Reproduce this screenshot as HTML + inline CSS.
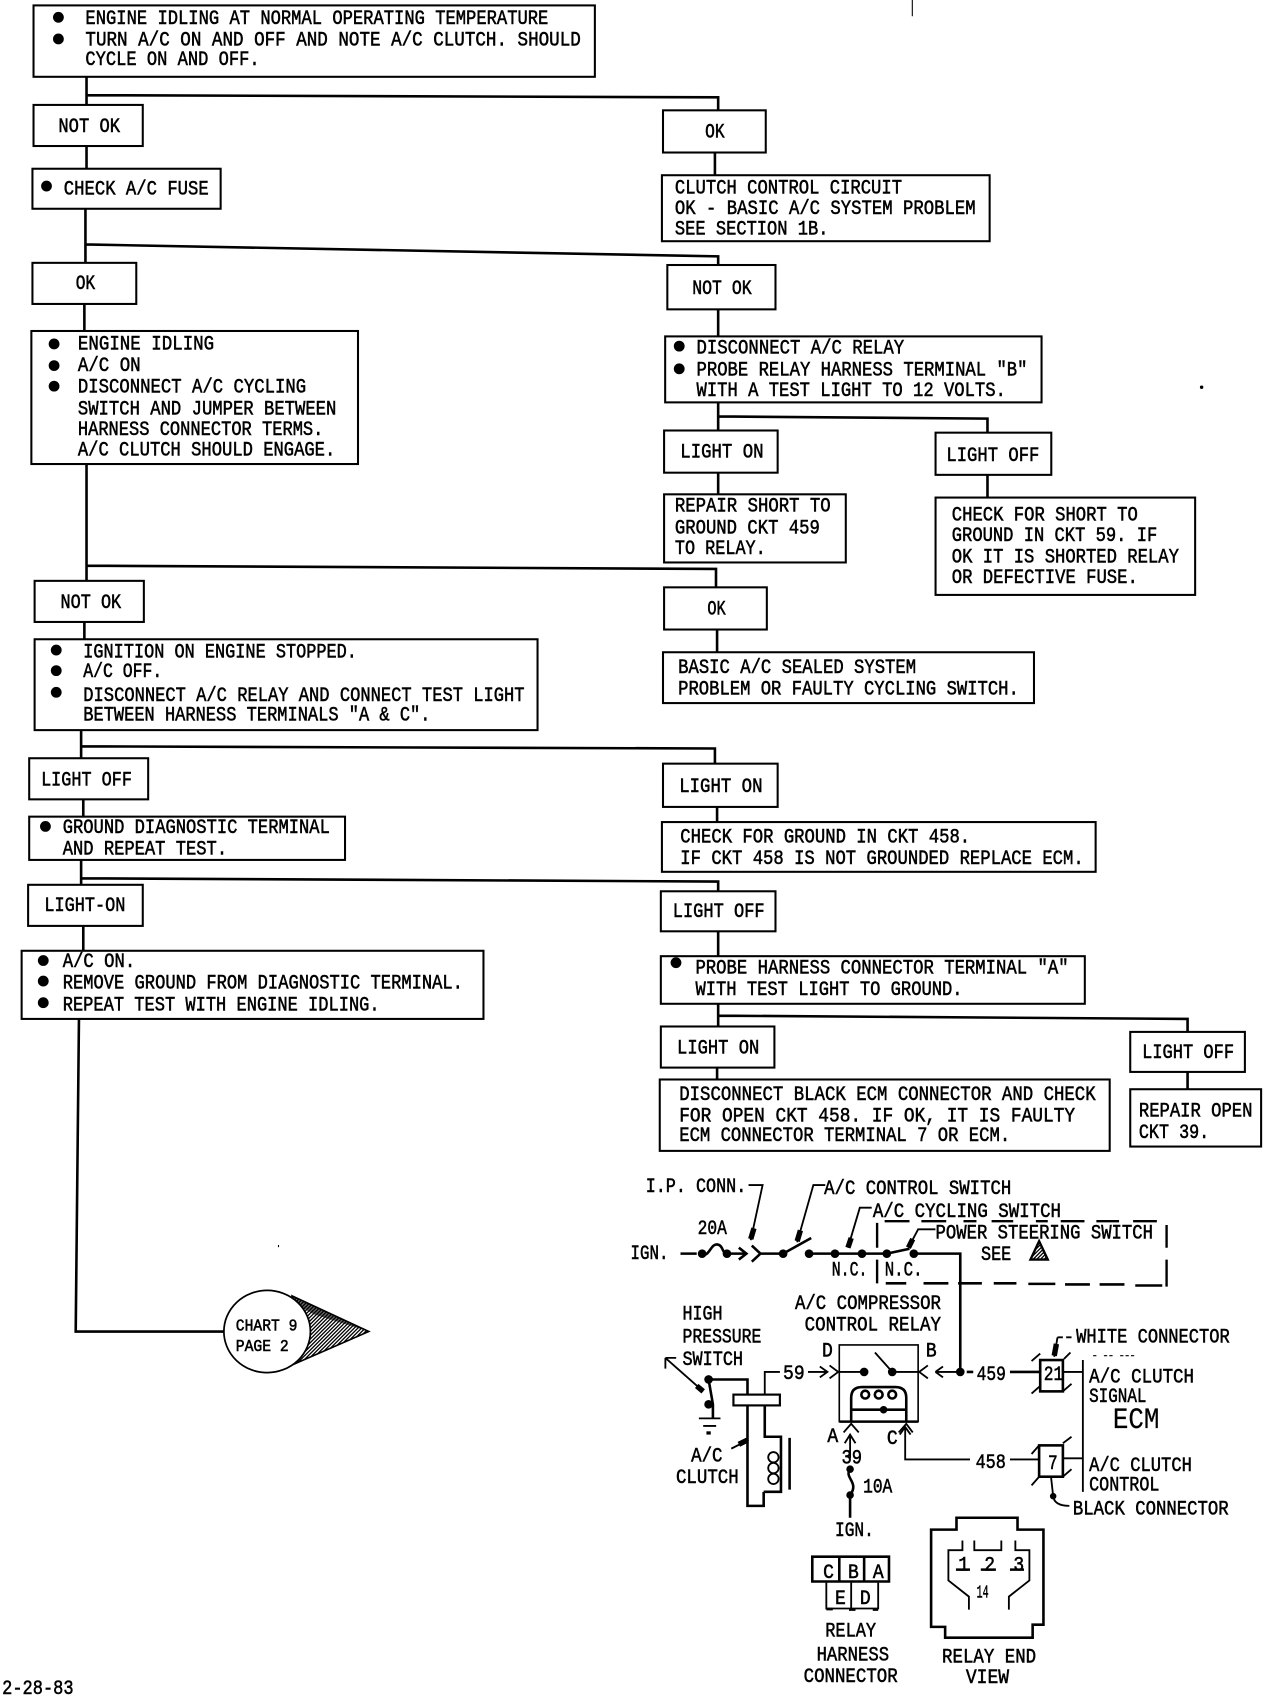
<!DOCTYPE html>
<html><head><meta charset="utf-8"><style>
html,body{margin:0;padding:0;background:#fff}
svg{display:block}
text{font-family:"Liberation Mono",monospace;font-size:19px;fill:#000;stroke:#000;stroke-width:.5}
.b{fill:#fff;stroke:#000;stroke-width:1.9}
.w{fill:none;stroke:#000;stroke-width:2.4}
.t{fill:none;stroke:#000;stroke-width:1.7}
.k{fill:none;stroke:#000;stroke-width:5}
</style></head><body>
<svg width="1280" height="1696" viewBox="0 0 1185 1570" preserveAspectRatio="none" xmlns="http://www.w3.org/2000/svg">
<defs><pattern id="h" width="2.4" height="2.4" patternUnits="userSpaceOnUse" patternTransform="rotate(45)"><rect width="2.4" height="2.4" fill="#fff"/><rect width="1.2" height="2.4" fill="#000"/></pattern></defs>
<rect width="1185" height="1570" fill="#fff"/>
<g transform="scale(1.0013)">
<path class="w" d="M80 71V97M80 88L664 90V102M80 135V156M79 193V243M79 226L664 237V245M661 141V162M78 281V306M80 429V537M80 523L662 526V543M664 286V311M664 372V398M664 385L913 387V400M664 437V457M913 439V460M78 575V591M663 582V603M75 675V701M75 690L661 692V706M77 739V755M663 746V760M75 795V818M75 812L664 815V824M77 856V883M664 861V884M664 928V949M664 939L1098 942V954M663 987V998M1098 991V1007M73 942L70 1231H207"/>
<rect class="b" x="31" y="5" width="519" height="66"/>
<rect class="b" x="31" y="97" width="101" height="38"/>
<rect class="b" x="30" y="156" width="174" height="37"/>
<rect class="b" x="613" y="102" width="95" height="39"/>
<rect class="b" x="612" y="162" width="303" height="61"/>
<rect class="b" x="30" y="243" width="96" height="38"/>
<rect class="b" x="29" y="306" width="302" height="123"/>
<rect class="b" x="617" y="245" width="100" height="41"/>
<rect class="b" x="615" y="311" width="348" height="61"/>
<rect class="b" x="614" y="398" width="105" height="39"/>
<rect class="b" x="614" y="457" width="168" height="63"/>
<rect class="b" x="865" y="400" width="107" height="39"/>
<rect class="b" x="865" y="460" width="240" height="90"/>
<rect class="b" x="32" y="537" width="101" height="38"/>
<rect class="b" x="32" y="591" width="465" height="84"/>
<rect class="b" x="614" y="543" width="95" height="39"/>
<rect class="b" x="613" y="603" width="343" height="47"/>
<rect class="b" x="27" y="701" width="110" height="38"/>
<rect class="b" x="27" y="755" width="292" height="40"/>
<rect class="b" x="613" y="706" width="106" height="40"/>
<rect class="b" x="612" y="760" width="401" height="46"/>
<rect class="b" x="26" y="818" width="106" height="38"/>
<rect class="b" x="20" y="879" width="427" height="63"/>
<rect class="b" x="611" y="824" width="106" height="37"/>
<rect class="b" x="611" y="884" width="392" height="44"/>
<rect class="b" x="611" y="949" width="105" height="38"/>
<rect class="b" x="610" y="998" width="416" height="66"/>
<rect class="b" x="1045" y="954" width="106" height="37"/>
<rect class="b" x="1045" y="1007" width="121" height="53"/>
<g fill="#000">
<circle cx="54" cy="16" r="5"/><circle cx="54" cy="36" r="5"/><circle cx="43" cy="172" r="5"/>
<circle cx="50" cy="318" r="5"/><circle cx="50" cy="338" r="5"/><circle cx="50" cy="357" r="5"/>
<circle cx="628" cy="320" r="5"/><circle cx="628" cy="341" r="5"/>
<circle cx="52" cy="601" r="5"/><circle cx="52" cy="620" r="5"/><circle cx="52" cy="640" r="5"/>
<circle cx="42" cy="764" r="5"/><circle cx="40" cy="888" r="5"/><circle cx="40" cy="907" r="5"/><circle cx="40" cy="927" r="5"/>
<circle cx="625" cy="890" r="5"/>
<rect x="843" y="0" width="1" height="15"/><circle cx="1111" cy="358" r="1.6"/><rect x="257" y="1151" width="1" height="2"/>
</g>
<text x="79" y="22" textLength="428" lengthAdjust="spacingAndGlyphs">ENGINE IDLING AT NORMAL OPERATING TEMPERATURE</text>
<text x="79" y="42" textLength="458" lengthAdjust="spacingAndGlyphs">TURN A/C ON AND OFF AND NOTE A/C CLUTCH.  SHOULD</text>
<text x="79" y="60" textLength="161" lengthAdjust="spacingAndGlyphs">CYCLE ON AND OFF.</text>
<text x="54" y="122" textLength="57" lengthAdjust="spacingAndGlyphs">NOT OK</text>
<text x="59" y="180" textLength="134" lengthAdjust="spacingAndGlyphs">CHECK A/C FUSE</text>
<text x="652" y="127" textLength="18" lengthAdjust="spacingAndGlyphs">OK</text>
<text x="624" y="179" textLength="210" lengthAdjust="spacingAndGlyphs">CLUTCH CONTROL CIRCUIT</text>
<text x="624" y="198" textLength="278" lengthAdjust="spacingAndGlyphs">OK - BASIC A/C SYSTEM PROBLEM</text>
<text x="624" y="217" textLength="142" lengthAdjust="spacingAndGlyphs">SEE SECTION 1B.</text>
<text x="70" y="267" textLength="18" lengthAdjust="spacingAndGlyphs">OK</text>
<text x="72" y="323" textLength="126" lengthAdjust="spacingAndGlyphs">ENGINE IDLING</text>
<text x="72" y="343" textLength="58" lengthAdjust="spacingAndGlyphs">A/C ON</text>
<text x="72" y="363" textLength="211" lengthAdjust="spacingAndGlyphs">DISCONNECT A/C CYCLING</text>
<text x="72" y="383" textLength="239" lengthAdjust="spacingAndGlyphs">SWITCH AND JUMPER BETWEEN</text>
<text x="72" y="402" textLength="227" lengthAdjust="spacingAndGlyphs">HARNESS CONNECTOR TERMS.</text>
<text x="72" y="421" textLength="238" lengthAdjust="spacingAndGlyphs">A/C CLUTCH SHOULD ENGAGE.</text>
<text x="640" y="272" textLength="55" lengthAdjust="spacingAndGlyphs">NOT OK</text>
<text x="644" y="327" textLength="192" lengthAdjust="spacingAndGlyphs">DISCONNECT A/C RELAY</text>
<text x="644" y="347" textLength="306" lengthAdjust="spacingAndGlyphs">PROBE RELAY HARNESS TERMINAL "B"</text>
<text x="644" y="366" textLength="286" lengthAdjust="spacingAndGlyphs">WITH A TEST LIGHT TO 12 VOLTS.</text>
<text x="629" y="423" textLength="77" lengthAdjust="spacingAndGlyphs">LIGHT ON</text>
<text x="624" y="473" textLength="144" lengthAdjust="spacingAndGlyphs">REPAIR SHORT TO</text>
<text x="624" y="493" textLength="134" lengthAdjust="spacingAndGlyphs">GROUND CKT 459</text>
<text x="624" y="512" textLength="84" lengthAdjust="spacingAndGlyphs">TO RELAY.</text>
<text x="875" y="426" textLength="86" lengthAdjust="spacingAndGlyphs">LIGHT OFF</text>
<text x="880" y="481" textLength="172" lengthAdjust="spacingAndGlyphs">CHECK FOR SHORT TO</text>
<text x="880" y="500" textLength="190" lengthAdjust="spacingAndGlyphs">GROUND IN CKT 59. IF</text>
<text x="880" y="520" textLength="210" lengthAdjust="spacingAndGlyphs">OK IT IS SHORTED RELAY</text>
<text x="880" y="539" textLength="172" lengthAdjust="spacingAndGlyphs">OR DEFECTIVE FUSE.</text>
<text x="56" y="562" textLength="56" lengthAdjust="spacingAndGlyphs">NOT OK</text>
<text x="77" y="608" textLength="253" lengthAdjust="spacingAndGlyphs">IGNITION ON ENGINE STOPPED.</text>
<text x="77" y="626" textLength="73" lengthAdjust="spacingAndGlyphs">A/C OFF.</text>
<text x="77" y="648" textLength="408" lengthAdjust="spacingAndGlyphs">DISCONNECT A/C RELAY AND CONNECT TEST LIGHT</text>
<text x="77" y="666" textLength="321" lengthAdjust="spacingAndGlyphs">BETWEEN HARNESS TERMINALS "A &amp; C".</text>
<text x="654" y="568" textLength="17" lengthAdjust="spacingAndGlyphs">OK</text>
<text x="627" y="622" textLength="220" lengthAdjust="spacingAndGlyphs">BASIC A/C SEALED SYSTEM</text>
<text x="627" y="642" textLength="315" lengthAdjust="spacingAndGlyphs">PROBLEM OR FAULTY CYCLING SWITCH.</text>
<text x="38" y="726" textLength="84" lengthAdjust="spacingAndGlyphs">LIGHT OFF</text>
<text x="58" y="770" textLength="247" lengthAdjust="spacingAndGlyphs">GROUND DIAGNOSTIC TERMINAL</text>
<text x="58" y="790" textLength="152" lengthAdjust="spacingAndGlyphs">AND REPEAT TEST.</text>
<text x="628" y="732" textLength="77" lengthAdjust="spacingAndGlyphs">LIGHT ON</text>
<text x="629" y="779" textLength="268" lengthAdjust="spacingAndGlyphs">CHECK FOR GROUND IN CKT 458.</text>
<text x="629" y="799" textLength="373" lengthAdjust="spacingAndGlyphs">IF CKT 458 IS NOT GROUNDED REPLACE ECM.</text>
<text x="41" y="842" textLength="75" lengthAdjust="spacingAndGlyphs">LIGHT-ON</text>
<text x="58" y="894" textLength="67" lengthAdjust="spacingAndGlyphs">A/C ON.</text>
<text x="58" y="914" textLength="370" lengthAdjust="spacingAndGlyphs">REMOVE GROUND FROM DIAGNOSTIC TERMINAL.</text>
<text x="58" y="934" textLength="293" lengthAdjust="spacingAndGlyphs">REPEAT TEST WITH ENGINE IDLING.</text>
<text x="622" y="848" textLength="85" lengthAdjust="spacingAndGlyphs">LIGHT OFF</text>
<text x="643" y="900" textLength="345" lengthAdjust="spacingAndGlyphs">PROBE HARNESS CONNECTOR TERMINAL "A"</text>
<text x="643" y="920" textLength="247" lengthAdjust="spacingAndGlyphs">WITH TEST LIGHT TO GROUND.</text>
<text x="626" y="974" textLength="76" lengthAdjust="spacingAndGlyphs">LIGHT ON</text>
<text x="628" y="1017" textLength="385" lengthAdjust="spacingAndGlyphs">DISCONNECT BLACK ECM CONNECTOR AND CHECK</text>
<text x="628" y="1037" textLength="366" lengthAdjust="spacingAndGlyphs">FOR OPEN CKT 458.  IF OK, IT IS FAULTY</text>
<text x="628" y="1055" textLength="306" lengthAdjust="spacingAndGlyphs">ECM CONNECTOR TERMINAL 7 OR ECM.</text>
<text x="1056" y="978" textLength="85" lengthAdjust="spacingAndGlyphs">LIGHT OFF</text>
<text x="1053" y="1032" textLength="105" lengthAdjust="spacingAndGlyphs">REPAIR OPEN</text>
<text x="1053" y="1052" textLength="65" lengthAdjust="spacingAndGlyphs">CKT 39.</text>
<path d="M270 1198L341 1231L270 1262Z" fill="url(#h)" stroke="#000" stroke-width="1.5"/>
<path d="M270 1198L341 1231L290 1215L272 1205Z" fill="#000" opacity=".6"/>
<ellipse cx="247" cy="1231" rx="40" ry="38" fill="#fff" stroke="#000" stroke-width="1.6"/>
<text x="218" y="1230" textLength="57" lengthAdjust="spacingAndGlyphs" style="font-size:15px">CHART 9</text>
<text x="218" y="1249" textLength="49" lengthAdjust="spacingAndGlyphs" style="font-size:15px">PAGE 2</text>
<text x="2" y="1566" textLength="66" lengthAdjust="spacingAndGlyphs">2-28-83</text>
<text x="597" y="1102" textLength="93" lengthAdjust="spacingAndGlyphs">I.P. CONN.</text>
<text x="762" y="1104" textLength="173" lengthAdjust="spacingAndGlyphs">A/C CONTROL SWITCH</text>
<text x="807" y="1125" textLength="174" lengthAdjust="spacingAndGlyphs">A/C CYCLING SWITCH</text>
<text x="865" y="1145" textLength="201" lengthAdjust="spacingAndGlyphs">POWER STEERING SWITCH</text>
<text x="645" y="1141" textLength="27" lengthAdjust="spacingAndGlyphs">20A</text>
<text x="583" y="1164" textLength="35" lengthAdjust="spacingAndGlyphs">IGN.</text>
<text x="769" y="1179" textLength="33" lengthAdjust="spacingAndGlyphs">N.C.</text>
<text x="818" y="1179" textLength="35" lengthAdjust="spacingAndGlyphs">N.C.</text>
<text x="907" y="1165" textLength="28" lengthAdjust="spacingAndGlyphs">SEE</text>
<text x="735" y="1210" textLength="135" lengthAdjust="spacingAndGlyphs">A/C COMPRESSOR</text>
<text x="744" y="1230" textLength="126" lengthAdjust="spacingAndGlyphs">CONTROL RELAY</text>
<text x="631" y="1220" textLength="37" lengthAdjust="spacingAndGlyphs">HIGH</text>
<text x="631" y="1241" textLength="73" lengthAdjust="spacingAndGlyphs">PRESSURE</text>
<text x="631" y="1262" textLength="56" lengthAdjust="spacingAndGlyphs">SWITCH</text>
<text x="724" y="1275" textLength="20" lengthAdjust="spacingAndGlyphs">59</text>
<text x="760" y="1254" textLength="10" lengthAdjust="spacingAndGlyphs">D</text>
<text x="856" y="1254" textLength="10" lengthAdjust="spacingAndGlyphs">B</text>
<text x="903" y="1276" textLength="27" lengthAdjust="spacingAndGlyphs">459</text>
<text x="965" y="1276" textLength="18" lengthAdjust="spacingAndGlyphs">21</text>
<text x="969" y="1358" textLength="9" lengthAdjust="spacingAndGlyphs">7</text>
<text x="902" y="1357" textLength="28" lengthAdjust="spacingAndGlyphs">458</text>
<text x="995" y="1241" textLength="142" lengthAdjust="spacingAndGlyphs">WHITE CONNECTOR</text>
<text x="1007" y="1278" textLength="97" lengthAdjust="spacingAndGlyphs">A/C CLUTCH</text>
<text x="1007" y="1296" textLength="53" lengthAdjust="spacingAndGlyphs">SIGNAL</text>
<text x="1029" y="1320" textLength="43" lengthAdjust="spacingAndGlyphs" style="font-size:27px;stroke-width:.2">ECM</text>
<text x="1007" y="1360" textLength="95" lengthAdjust="spacingAndGlyphs">A/C CLUTCH</text>
<text x="1007" y="1378" textLength="65" lengthAdjust="spacingAndGlyphs">CONTROL</text>
<text x="992" y="1400" textLength="144" lengthAdjust="spacingAndGlyphs">BLACK CONNECTOR</text>
<text x="639" y="1351" textLength="29" lengthAdjust="spacingAndGlyphs">A/C</text>
<text x="625" y="1371" textLength="58" lengthAdjust="spacingAndGlyphs">CLUTCH</text>
<text x="765" y="1333" textLength="10" lengthAdjust="spacingAndGlyphs">A</text>
<text x="820" y="1335" textLength="10" lengthAdjust="spacingAndGlyphs">C</text>
<text x="778" y="1353" textLength="19" lengthAdjust="spacingAndGlyphs">39</text>
<text x="798" y="1380" textLength="27" lengthAdjust="spacingAndGlyphs">10A</text>
<text x="772" y="1420" textLength="36" lengthAdjust="spacingAndGlyphs">IGN.</text>
<text x="761" y="1459" textLength="10" lengthAdjust="spacingAndGlyphs">C</text>
<text x="784" y="1459" textLength="10" lengthAdjust="spacingAndGlyphs">B</text>
<text x="807" y="1459" textLength="10" lengthAdjust="spacingAndGlyphs">A</text>
<text x="772" y="1483" textLength="10" lengthAdjust="spacingAndGlyphs">E</text>
<text x="795" y="1483" textLength="10" lengthAdjust="spacingAndGlyphs">D</text>
<text x="763" y="1513" textLength="47" lengthAdjust="spacingAndGlyphs">RELAY</text>
<text x="755" y="1535" textLength="67" lengthAdjust="spacingAndGlyphs">HARNESS</text>
<text x="743" y="1555" textLength="87" lengthAdjust="spacingAndGlyphs">CONNECTOR</text>
<text x="886" y="1452" textLength="10" lengthAdjust="spacingAndGlyphs">1</text>
<text x="910" y="1452" textLength="10" lengthAdjust="spacingAndGlyphs">2</text>
<text x="937" y="1452" textLength="10" lengthAdjust="spacingAndGlyphs">3</text>
<text x="903" y="1477" textLength="11" lengthAdjust="spacingAndGlyphs" style="font-size:17px">14</text>
<text x="871" y="1537" textLength="87" lengthAdjust="spacingAndGlyphs">RELAY END</text>
<text x="893" y="1556" textLength="40" lengthAdjust="spacingAndGlyphs">VIEW</text>
</g>
<!-- schematic -->
<g class="t">
<path class="w" d="M630 1160.5H645M650 1160.5C656 1165 658 1151 664 1152S668 1160 673 1160.5H690M684 1155L691 1160.5L684 1166M696 1153L704 1160.5L696 1168M704 1160.5H725M725 1160.5L751 1146M749 1160.5H773M773 1160.5H798M798 1160.5H821M821 1160.5L842 1156M845 1160.5H889V1270"/>
<path d="M693 1097H706L695 1148M764 1097H753L738 1150M807 1118H796L785 1155M866 1138H850L841 1155"/>
<path class="k" d="M698 1137L695 1147M741 1139L738 1149M788 1146L785 1155M845 1147L841 1155"/>
<path stroke-width="2.2" d="M812 1132V1155M812 1166V1188M1080 1134V1155M1080 1166V1191"/>
<path stroke-width="2.2" d="M819 1130.5H842M853 1130.5H876M892 1130.5H904M918 1130.5H938M959 1130.5H970M982 1130.5H1004M1015 1130.5H1036M1049 1130.5H1071"/>
<path stroke-width="2.4" d="M820 1188H839M855 1188H878M887 1188H909M920 1188H941M952 1188.5H977M986 1189H1009M1018 1189H1041M1051 1190H1076"/>
<path fill="url(#h)" stroke-width="2.2" d="M954 1166H970L962 1149Z"/>
<path d="M708 1291V1270H722M748 1270H765M759 1265L766 1270L759 1275M768 1264L776 1270L768 1276M777 1270H800M810 1252L826 1270M826 1270H850M859 1264L851 1270L859 1276M866 1270L873 1265M866 1270L873 1275M866 1270H887"/>
<path stroke-width="2.4" d="M895 1270H901M935 1270H963"/>
<path d="M984 1270H1003M1002.5 1259V1381M1003 1350H984M935 1351H962"/>
<path stroke-width="1.5" d="M777 1316V1245H850V1316Z"/>
<path class="w" d="M788 1316V1294Q788 1284 798 1284H829Q839 1284 839 1294V1316M777 1316H850M788 1305H839"/>
<path d="M781 1326L788 1318L795 1326M832 1326L839 1318L845 1326"/>
<path d="M787 1350V1330M782 1336L787 1328L792 1336M838 1322V1351H898M833 1328L838 1321L843 1328"/>
<path class="w" d="M787 1360C781 1368 796 1372 787 1384V1405"/>
<rect class="w" x="963" y="1259" width="21" height="29"/>
<rect class="w" x="962" y="1338" width="22" height="29"/>
<path d="M955 1260L963 1253M985 1258L991 1252M955 1290L963 1283M984 1288L992 1281M955 1346L962 1338M984 1336L992 1330M955 1375L962 1367M984 1367L992 1360M973 1367L975 1385Q976 1394 990 1394"/>
<path stroke-dasharray="5 3" d="M992 1238H979"/><path d="M979 1238L976 1256"/><path class="k" d="M978 1244L976 1255"/>
<path d="M1012 1255H1016M1022 1255H1032M1037 1255H1052" stroke-dasharray="3 2" stroke-width="1"/>
<path d="M616 1257L651 1288M616 1257H626M616 1257V1267"/>
<path class="k" d="M645 1283L651 1288"/>
<path class="w" d="M656 1277H692V1291M656 1277L660 1300V1313M692 1301V1394H707V1381M708 1301V1330H723V1381H707M731 1331V1379"/>
<rect x="679" y="1291" width="43" height="10" fill="#fff" stroke="#000" stroke-width="2"/>
<path d="M647 1313H667M651 1320H663"/>
<path d="M677 1341L693 1333"/><path class="k" d="M684 1337L692 1333"/>
<circle cx="801" cy="1291" r="3.6" stroke-width="2.4"/><circle cx="813.5" cy="1291" r="3.6" stroke-width="2.4"/><circle cx="826" cy="1291" r="3.6" stroke-width="2.4"/>
<circle cx="716" cy="1349" r="4.8"/><circle cx="716" cy="1359" r="4.8"/><circle cx="716" cy="1369" r="4.8"/>
<path class="w" d="M752 1441H823V1464H752ZM777 1441V1464M800 1441V1464"/>
<path d="M765 1465V1489H813V1465M788 1465V1489"/>
<path class="w" d="M765 1489.5H771M786 1490H792M808 1490H813"/>
<path class="w" d="M885.5 1405H942V1416H966V1504H956V1516H875V1506H862V1416H885.5Z"/>
<path d="M891 1426V1435H878V1463L897 1478V1490M940 1426V1435H953V1463L934 1478V1490M902 1426V1435H927V1426"/>
<path class="w" d="M885 1453H898M908 1453H922M935 1453H948"/>
</g>
<g fill="#000">
<circle cx="650" cy="1160.5" r="4"/><circle cx="673" cy="1160.5" r="4"/><circle cx="725" cy="1160.5" r="4"/><circle cx="749" cy="1160.5" r="4"/><circle cx="773" cy="1160.5" r="4"/><circle cx="798" cy="1160.5" r="4"/><circle cx="821" cy="1160.5" r="4"/><circle cx="846" cy="1160.5" r="4"/>
<circle cx="800" cy="1270" r="4"/><circle cx="826" cy="1270" r="4"/><circle cx="889" cy="1270" r="4"/><circle cx="818" cy="1305" r="3.5"/>
<circle cx="656" cy="1277" r="4"/><circle cx="656" cy="1300" r="4"/><circle cx="787" cy="1360" r="3.5"/><circle cx="787" cy="1384" r="3.5"/><circle cx="975" cy="1385" r="3"/><rect x="654" y="1325" width="4" height="3"/>
</g>
</svg>
</body></html>
